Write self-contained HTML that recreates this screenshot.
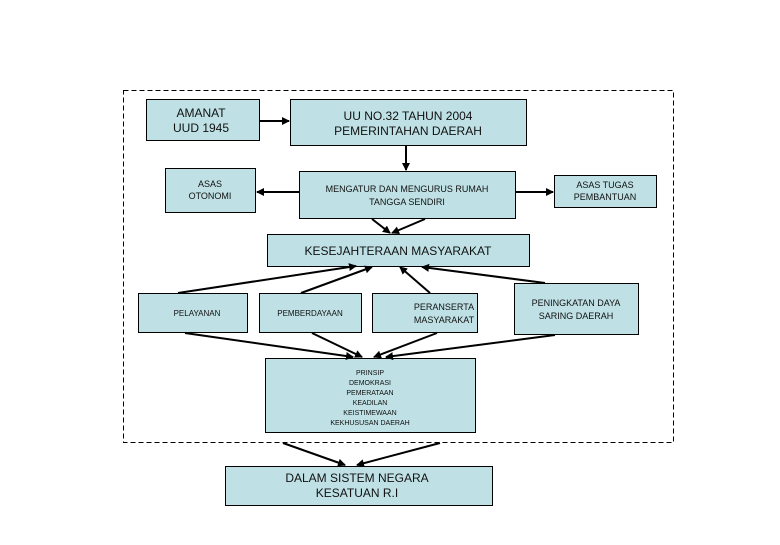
<!DOCTYPE html>
<html><head><meta charset="utf-8"><style>
html,body{margin:0;padding:0;background:#fff;}
svg text{font-family:"Liberation Sans",sans-serif;fill:#111;}
</style></head><body>
<svg width="780" height="540" viewBox="0 0 780 540" xmlns="http://www.w3.org/2000/svg">
<defs><marker id="a" markerWidth="8" markerHeight="8" refX="7" refY="4" orient="auto" markerUnits="userSpaceOnUse"><path d="M0,0 L8,4 L0,8 z" fill="#000"/></marker></defs>
<rect x="123.5" y="90.5" width="550" height="352" fill="none" stroke="#000" stroke-dasharray="5,3"/>
<g fill="#bfe1e5" stroke="#000" stroke-width="1">
<rect x="146.5" y="99.5" width="113" height="41"/>
<rect x="290.5" y="99.5" width="236" height="46"/>
<rect x="165.5" y="168.5" width="90" height="44"/>
<rect x="299.5" y="171.5" width="216" height="47"/>
<rect x="554.5" y="175.5" width="102" height="32"/>
<rect x="267.5" y="234.5" width="262" height="32"/>
<rect x="138.5" y="293.5" width="109" height="39"/>
<rect x="259.5" y="293.5" width="102" height="39"/>
<rect x="372.5" y="293.5" width="105" height="39"/>
<rect x="514.5" y="283.5" width="124" height="51"/>
<rect x="265.5" y="358.5" width="210" height="74"/>
<rect x="225.5" y="466.5" width="267" height="39"/>
</g>
<g stroke="#000" stroke-width="2" marker-end="url(#a)">
<line x1="260" y1="121" x2="289" y2="121"/>
<line x1="406" y1="146" x2="406" y2="170"/>
<line x1="299" y1="192" x2="257" y2="192"/>
<line x1="516" y1="192" x2="553" y2="192"/>
<line x1="372" y1="219" x2="390" y2="233"/>
<line x1="425" y1="219" x2="392" y2="233"/>
<line x1="178" y1="293" x2="356" y2="266"/>
<line x1="301" y1="293" x2="372" y2="267"/>
<line x1="430" y1="293" x2="400" y2="267"/>
<line x1="545" y1="283" x2="422" y2="267"/>
<line x1="185" y1="333" x2="353" y2="357"/>
<line x1="312" y1="333" x2="362" y2="357"/>
<line x1="437" y1="333" x2="374" y2="357"/>
<line x1="555" y1="335" x2="386" y2="357"/>
<line x1="283" y1="443" x2="345" y2="465"/>
<line x1="440" y1="443" x2="357" y2="465"/>
</g>
<g text-anchor="middle">
<text x="201" y="117" font-size="12">AMANAT</text>
<text x="201" y="132" font-size="12">UUD 1945</text>
<text x="408" y="120" font-size="12">UU NO.32 TAHUN 2004</text>
<text x="408" y="135" font-size="12">PEMERINTAHAN DAERAH</text>
<text x="210" y="187" font-size="9">ASAS</text>
<text x="210" y="199" font-size="9">OTONOMI</text>
<text x="407" y="192" font-size="9">MENGATUR DAN MENGURUS RUMAH</text>
<text x="407" y="205" font-size="9">TANGGA SENDIRI</text>
<text x="605" y="188" font-size="9">ASAS TUGAS</text>
<text x="605" y="200" font-size="9">PEMBANTUAN</text>
<text x="398" y="255" font-size="12">KESEJAHTERAAN MASYARAKAT</text>
<text x="197" y="316" font-size="8">PELAYANAN</text>
<text x="310" y="316" font-size="8">PEMBERDAYAAN</text>
<text x="444" y="310" font-size="9">PERANSERTA</text>
<text x="444" y="323" font-size="9">MASYARAKAT</text>
<text x="576" y="306" font-size="9">PENINGKATAN DAYA</text>
<text x="576" y="319" font-size="9">SARING DAERAH</text>
<text x="370" y="375" font-size="7">PRINSIP</text>
<text x="370" y="385" font-size="7">DEMOKRASI</text>
<text x="370" y="395" font-size="7">PEMERATAAN</text>
<text x="370" y="405" font-size="7">KEADILAN</text>
<text x="370" y="415" font-size="7">KEISTIMEWAAN</text>
<text x="370" y="425" font-size="7">KEKHUSUSAN DAERAH</text>
<text x="357" y="482" font-size="12">DALAM SISTEM NEGARA</text>
<text x="357" y="497" font-size="12">KESATUAN R.I</text>
</g>
</svg>
</body></html>
